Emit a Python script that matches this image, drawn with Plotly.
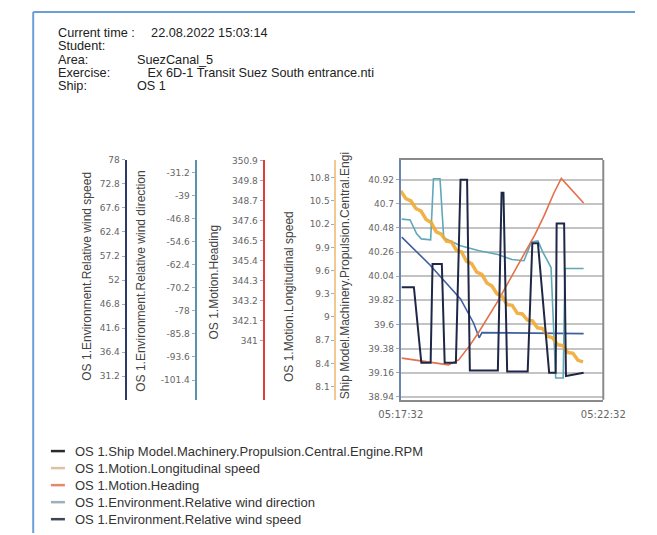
import plotly.graph_objects as go
import pandas as pd

W, H = 657, 535
T0 = pd.Timestamp("2022-08-22 05:17:32")
T1 = pd.Timestamp("2022-08-22 05:22:32")

# ---------------- data (seconds after 05:17:32, values) ----------------
rpm_t = [1.4, 19.4, 30.4, 44.2, 47.0, 60.8, 65.0, 81.6, 88.5, 98.2, 102.3, 143.8,
         149.3, 152.1, 157.6, 188.0, 194.9, 203.2, 219.8, 229.5, 230.9, 242.0, 244.7, 270.9]
rpm_v = [39.94, 39.94, 39.25, 39.25, 40.15, 40.15, 39.25, 39.25, 40.92, 40.92, 39.18, 39.18,
         40.80, 40.80, 39.17, 39.17, 40.34, 40.34, 39.16, 39.16, 40.52, 40.52, 39.13, 39.16]

speed_t = [0, 7.5, 15, 22.5, 30, 37.5, 45, 52.5, 60, 67.5, 75, 82.5, 90, 97.5, 105, 112.5,
           120, 127.5, 135, 142.5, 150, 157.5, 165, 172.5, 180, 187.5, 195, 202.5, 210,
           217.5, 225, 232.5, 240, 247.5, 255, 262.5, 270]
speed_v = [10.63, 10.53, 10.50, 10.40, 10.37, 10.26, 10.22, 10.10, 10.07, 9.98, 9.97, 9.86,
           9.84, 9.72, 9.69, 9.58, 9.55, 9.44, 9.40, 9.30, 9.27, 9.16, 9.15, 9.05, 9.04, 8.96,
           8.95, 8.86, 8.85, 8.75, 8.73, 8.64, 8.63, 8.54, 8.53, 8.44, 8.42]

heading_t = [1.4, 19.4, 47.0, 70.5, 85.7, 102.3, 116.1, 130.0, 143.8, 157.6, 171.4, 185.3,
             199.0, 212.9, 226.7, 237.8, 247.5, 257.1, 270.9]
heading_v = [340.06, 339.96, 339.79, 339.69, 339.96, 340.76, 341.52, 342.33, 343.19, 344.11,
             345.02, 345.94, 346.86, 347.93, 349.12, 349.93, 349.55, 349.12, 348.58]

wdir_t = [1.4, 13.8, 23.5, 30.4, 44.2, 48.4, 58.1, 63.6, 88.5, 116.1, 143.8, 164.5, 182.5,
          193.5, 203.2, 210.1, 222.6, 229.5, 240.6, 243.3, 270.9]
wdir_v = [-46.9, -47.2, -51.9, -53.6, -53.9, -33.2, -33.2, -53.3, -55.9, -57.6, -58.9, -60.6,
          -61.0, -54.6, -54.3, -57.9, -63.3, -100.7, -100.7, -63.6, -63.6]

wspd_t = [1.4, 42.9, 88.5, 107.8, 116.1, 120.3, 270.9]
wspd_v = [61.3, 55.3, 47.9, 42.7, 39.5, 40.6, 40.4]

# tick labels of the five value axes
wspd_ticks = [78, 72.8, 67.6, 62.4, 57.2, 52, 46.8, 41.6, 36.4, 31.2]
wdir_ticks = [-31.2, -39, -46.8, -54.6, -62.4, -70.2, -78, -85.8, -93.6, -101.4]
head_ticks = [350.9, 349.8, 348.7, 347.6, 346.5, 345.4, 344.3, 343.2, 342.1, 341]
speed_ticks = [10.8, 10.5, 10.2, 9.9, 9.6, 9.3, 9, 8.7, 8.4, 8.1]
rpm_ticks = [40.92, 40.7, 40.48, 40.26, 40.04, 39.82, 39.6, 39.38, 39.16, 38.94]
time_ticks = ["05:17:32", "05:22:32"]

legend_names = ["OS 1.Ship Model.Machinery.Propulsion.Central.Engine.RPM",
                "OS 1.Motion.Longitudinal speed",
                "OS 1.Motion.Heading",
                "OS 1.Environment.Relative wind direction",
                "OS 1.Environment.Relative wind speed"]

header_labels = ["Current time :", "Student:", "Area:", "Exercise:", "Ship:"]
header_values = ["22.08.2022 15:03:14", "", "SuezCanal_5",
                 "Ex 6D-1 Transit Suez South entrance.nti", "OS 1"]
header_indent = [4, 0, 0, 3, 0]

# ---------------- styling ----------------
C_RPM = "#1e2746"
C_SPEED = "#f0aa34"
C_HEAD = "#e4704c"
C_WDIR = "#5fa8b8"
C_WSPD = "#3f60a0"
LEG_COLORS = ["#2b2b2b", "#dcc2a4", "#e48a6a", "#9ab0bc", "#3d4656"]


def px_x(p):
    return p / W


def px_y(p):
    return 1 - p / H


def ts(sec):
    return [T0 + pd.Timedelta(seconds=s) for s in sec]


fig = go.Figure()
fig.add_trace(go.Scatter(x=ts(wspd_t), y=wspd_v, yaxis="y", mode="lines",
                         line=dict(color=C_WSPD, width=1.6), name=legend_names[4]))
fig.add_trace(go.Scatter(x=ts(wdir_t), y=wdir_v, yaxis="y2", mode="lines",
                         line=dict(color=C_WDIR, width=1.6), name=legend_names[3]))
fig.add_trace(go.Scatter(x=ts(heading_t), y=heading_v, yaxis="y3", mode="lines",
                         line=dict(color=C_HEAD, width=1.6), name=legend_names[2]))
fig.add_trace(go.Scatter(x=ts(speed_t), y=speed_v, yaxis="y4", mode="lines",
                         line=dict(color=C_SPEED, width=3.5), opacity=0.9, name=legend_names[1]))
fig.add_trace(go.Scatter(x=ts(rpm_t), y=rpm_v, yaxis="y5", mode="lines",
                         line=dict(color=C_RPM, width=2), name=legend_names[0]))

YD = [px_y(400), px_y(157)]
TICKFONT = dict(family="DejaVu Sans", size=9, color="#666666")


def value_axis(ticks, rng, pos, color, **kw):
    d = dict(domain=YD, range=rng, tickvals=ticks, ticktext=[f"{v:g}" for v in ticks],
             showline=True, linecolor=color, linewidth=2, showgrid=False, zeroline=False,
             ticks="outside", ticklen=3, tickcolor="#aaaaaa", tickfont=TICKFONT, side="left")
    if pos is not None:
        d.update(anchor="free", position=pos)
    d.update(kw)
    return d


fig.update_layout(
    width=W, height=H, margin=dict(l=0, r=0, t=0, b=0),
    paper_bgcolor="white", plot_bgcolor="white", showlegend=False,
    xaxis=dict(domain=[px_x(406), px_x(623)], anchor="y", type="date", range=[T0, T1],
               tickvals=[T0, T1], ticktext=time_ticks, showgrid=False, zeroline=False,
               showline=True, linecolor="#8a8a8a", linewidth=2, mirror=True, ticks="",
               ticklabelstandoff=4,
               tickfont=dict(family="DejaVu Sans", size=10, color="#666666")),
    yaxis=value_axis(wspd_ticks, [26.07, 78.0], px_x(111), "#2b3a67"),
    yaxis2=value_axis(wdir_ticks, [-108.09, -26.85], px_x(186), "#5d8fb3", overlaying="y"),
    yaxis3=value_axis(head_ticks, [337.77, 350.95], px_x(259), "#e03c3c", overlaying="y"),
    yaxis4=value_axis(speed_ticks, [7.93, 11.03], px_x(336), "#f0c890", overlaying="y"),
    yaxis5=value_axis(rpm_ticks, [38.913, 41.10], None, "#6a86b0", overlaying="y",
                      anchor="x", showgrid=True, gridcolor="#c4c4c4", gridwidth=1.5),
)

shapes = [
    # frame of the page
    dict(type="line", xref="paper", yref="paper", x0=px_x(12), x1=1, y0=px_y(7), y1=px_y(7),
         line=dict(color="#6a9fd8", width=2)),
    dict(type="line", xref="paper", yref="paper", x0=px_x(12), x1=px_x(12), y0=px_y(7), y1=0,
         line=dict(color="#6a9fd8", width=2)),
    # right border of the plot box
    dict(type="line", xref="x domain", yref="y domain", x0=1, x1=1, y0=0, y1=1,
         line=dict(color="#8a8a8a", width=2)),
]
annotations = []

# axis titles
titles = [("OS 1.Environment.Relative wind speed", 70, 275),
          ("OS 1.Environment.Relative wind direction", 128, 280),
          ("OS 1.Motion.Heading", 206, 281),
          ("OS 1.Motion.Longitudinal speed", 286, 295),
          ("Ship Model.Machinery.Propulsion.Central.Engi", 347, 274)]
for txt, cx, cy in titles:
    annotations.append(dict(text=txt, xref="paper", yref="paper", x=px_x(cx), y=px_y(cy),
                            xanchor="center", yanchor="middle", textangle=-90, showarrow=False,
                            font=dict(family="Liberation Sans", size=12, color="#444444")))

# header: two multi-line blocks (line pitch 1.3 x base size = 13.3 px)
SPAN = '<span style="font-size:12.7px">{}</span>'
lab_block = "<br>".join(SPAN.format(s) for s in header_labels)
val_block = "<br>".join(SPAN.format("\u00a0" * n + (s if s else "\u00a0"))
                        for s, n in zip(header_values, header_indent))
for block, bx in ((lab_block, 38), (val_block, 122)):
    annotations.append(dict(text=block, xref="paper", yref="paper", x=px_x(bx), y=px_y(55),
                            xanchor="left", yanchor="middle", align="left", showarrow=False,
                            borderpad=0,
                            font=dict(family="Liberation Sans", size=10.25, color="#222222")))

# legend
for i, (name, col) in enumerate(zip(legend_names, LEG_COLORS)):
    yy = 452 + i * 17.25
    shapes.append(dict(type="line", xref="paper", yref="paper", x0=px_x(31), x1=px_x(46),
                       y0=px_y(yy), y1=px_y(yy), line=dict(color=col, width=2.5)))
    annotations.append(dict(text=name, xref="paper", yref="paper", x=px_x(55), y=px_y(yy),
                            xanchor="left", yanchor="middle", showarrow=False,
                            font=dict(family="Liberation Sans", size=13, color="#333333")))

fig.update_layout(shapes=shapes, annotations=annotations)
fig.write_html("out.html", config={"displayModeBar": False},
               post_script="document.body.style.margin='0px';")
